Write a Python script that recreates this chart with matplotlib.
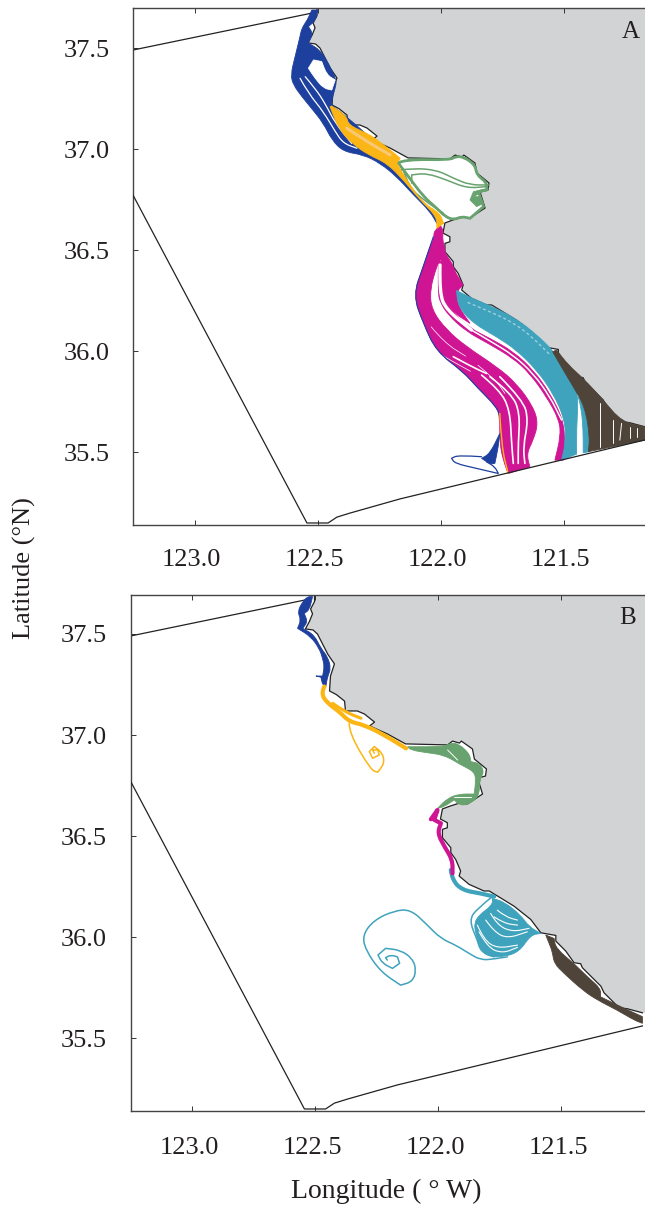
import math
import matplotlib
matplotlib.use("Agg")
import matplotlib.pyplot as plt
from matplotlib.path import Path
from matplotlib.patches import PathPatch
from matplotlib.transforms import ScaledTranslation

plt.rcParams['font.family'] = ['Liberation Serif', 'DejaVu Serif']

LON_TICKS = [123.0, 122.5, 122.0, 121.5]
LAT_TICKS = [35.5, 36.0, 36.5, 37.0, 37.5]

COL_BLUE = '#1d3f9e'
COL_GOLD = '#fbb515'
COL_GREEN = '#68a26e'
COL_MAG = '#cf1594'
COL_TEAL = '#3fa3bd'
COL_TEAL_LIGHT = '#9fd0dd'
COL_BROWN = '#4f4439'
COL_LAND = '#d1d3d4'

coast = [(122.504,37.698),(122.504,37.660),(122.520,37.624),(122.512,37.600),(122.524,37.564),(122.541,37.525),
         (122.510,37.520),(122.492,37.500),(122.463,37.431),(122.450,37.400),(122.423,37.352),(122.439,37.292),
         (122.443,37.218),(122.415,37.200),(122.382,37.168),(122.378,37.119),(122.330,37.119),(122.301,37.104),
         (122.260,37.064),(122.280,37.045),(122.207,37.005),(122.134,36.956),(121.963,36.951),(121.943,36.970),
         (121.915,36.960),(121.907,36.970),(121.862,36.931),(121.854,36.881),(121.805,36.832),(121.809,36.797),
         (121.841,36.787),(121.821,36.708),(121.882,36.659),(121.915,36.663),(121.951,36.649),(121.984,36.634),
         (121.992,36.584),(121.964,36.566),(121.964,36.541),(121.984,36.533),(121.984,36.492),(121.950,36.442),
         (121.950,36.418),(121.930,36.384),(121.910,36.327),(121.916,36.302),(121.876,36.261),(121.815,36.228),
         (121.794,36.228),(121.760,36.203),(121.693,36.153),(121.625,36.087),(121.584,36.021),(121.523,36.008),
         (121.523,35.980),(121.483,35.931),(121.449,35.873),(121.422,35.868),(121.415,35.848),(121.340,35.757),
         (121.327,35.724),(121.266,35.650),(121.232,35.645),(121.171,35.625)]
land_east = [(121.0,35.625),(121.0,37.9),(122.504,37.9)]

boundary_north = [(123.252,37.490),(122.524,37.673)]
boundary_south = [(123.252,36.772),(122.545,35.149),(122.459,35.149),(122.423,35.178),(122.370,35.198),
                  (122.167,35.268),(121.171,35.560)]

# Panel A
a_blue = [(122.525,37.688),(122.543,37.639),(122.566,37.598),(122.573,37.557),(122.593,37.458),(122.611,37.367),
          (122.600,37.317),(122.566,37.260),(122.532,37.210),(122.478,37.128),(122.444,37.045),(122.397,36.987),
          (122.315,36.971),(122.248,36.930),(122.180,36.863),(122.112,36.773),(122.044,36.690),(122.017,36.632),
          (121.990,36.632),(122.085,36.748),(122.153,36.847),(122.248,37.012),(122.383,37.161),(122.444,37.213),
          (122.444,37.243),(122.430,37.301),(122.424,37.342),(122.458,37.424),(122.491,37.490),(122.539,37.524),
          (122.521,37.573),(122.539,37.606),(122.508,37.639),(122.502,37.688)]
a_blue_hole = [(122.539,37.400),(122.518,37.441),(122.485,37.433),(122.464,37.367),(122.430,37.342),(122.444,37.292),
               (122.478,37.301),(122.512,37.350)]
a_blue_gaps = [[(122.573,37.350),(122.539,37.276),(122.478,37.185),(122.430,37.086),(122.397,37.028),(122.342,37.004)],
               [(122.552,37.358),(122.512,37.301),(122.471,37.226),(122.430,37.128),(122.363,37.028)]]
a_gold = [(122.451,37.210),(122.417,37.103),(122.363,37.028),(122.295,36.971),(122.220,36.930),(122.153,36.847),
          (122.085,36.748),(122.017,36.665),(122.017,36.608),(121.990,36.632),(122.004,36.682),(122.071,36.731),
          (122.132,36.831),(122.180,36.930),(122.166,36.954),(122.207,36.996),(122.268,37.053),(122.302,37.078),
          (122.376,37.119),(122.383,37.161),(122.444,37.213)]
a_gold_light = [(122.383,37.103),(122.302,37.037),(122.207,36.971)]
a_green_outer = [(122.180,36.930),(122.146,36.949),(121.963,36.946),(121.943,36.962),(121.909,36.962),(121.861,36.921),
                 (121.855,36.872),(121.814,36.834),(121.814,36.797),(121.848,36.789),(121.827,36.715),(121.882,36.657),
                 (121.916,36.666),(121.949,36.649),(121.983,36.666),(122.017,36.707),(122.071,36.764),(122.132,36.863),
                 (122.173,36.930)]
a_green_thin = [[(122.166,36.896),(122.112,36.905),(122.017,36.896),(121.949,36.855),(121.882,36.822),(121.807,36.822)],
                [(122.119,36.831),(122.119,36.872),(122.058,36.880),(121.977,36.847),(121.895,36.806),(121.814,36.814)],
                [(122.153,36.896),(122.132,36.814),(122.071,36.748),(121.990,36.682)]]
a_green_blob = [(121.807,36.806),(121.868,36.789),(121.882,36.748),(121.855,36.715),(121.827,36.732),(121.848,36.764),
                (121.868,36.764)]
a_mag_main = [(122.004,36.591),(122.031,36.566),(122.072,36.418),(122.113,36.277),(122.072,36.137),(122.018,35.997),
              (121.910,35.898),(121.855,35.823),(121.774,35.724),(121.761,35.675),(121.761,35.543),(121.747,35.460),
              (121.727,35.394),(121.639,35.427),(121.652,35.493),(121.625,35.559),(121.605,35.642),(121.625,35.724),
              (121.693,35.840),(121.774,35.923),(121.896,36.021),(121.977,36.104),(122.038,36.203),(122.045,36.302),
              (122.018,36.418),(122.004,36.450),(121.998,36.550)]
a_mag_strip = [(121.984,36.434),(121.991,36.302),(121.964,36.203),(121.882,36.112),(121.801,36.063),(121.706,35.997),
               (121.625,35.906),(121.557,35.791),(121.503,35.659),(121.496,35.543),(121.503,35.460),(121.537,35.460),
               (121.514,35.576),(121.519,35.659),(121.571,35.774),(121.639,35.889),(121.706,35.964),(121.808,36.038),
               (121.896,36.096),(121.971,36.178),(122.004,36.244),(122.011,36.285),(122.011,36.401),(122.011,36.450)]
a_mag_side = [(121.984,36.442),(121.964,36.434),(121.910,36.327),(121.937,36.294),(121.930,36.220),(121.882,36.137),
              (121.964,36.203),(121.991,36.302)]
a_mag_top = [(122.004,36.624),(121.991,36.599),(121.994,36.550),(121.984,36.508),(121.984,36.484),(121.950,36.426),
             (121.930,36.343),(121.937,36.302),(121.984,36.302),(121.998,36.450),(122.031,36.450),(122.031,36.582),
             (122.021,36.599)]
a_mag_gap_upper = [(122.004,36.426),(122.007,36.286),(121.977,36.203),(121.876,36.104)]
a_mag_gap_lower = [(121.876,36.104),(121.801,36.050),(121.706,35.980),(121.625,35.889),(121.557,35.774),(121.510,35.659)]
a_mag_gaps = [[(121.835,35.881),(121.761,35.807),(121.720,35.708),(121.713,35.543),(121.706,35.444)],
              [(121.801,35.873),(121.713,35.791),(121.679,35.692),(121.686,35.543),(121.686,35.444)],
              [(121.761,35.873),(121.666,35.757),(121.645,35.659),(121.666,35.526),(121.659,35.444)],
              [(121.950,35.972),(121.876,35.923),(121.815,35.889)]]
a_mag_fine = [[(122.012,35.990),(121.940,35.940),(121.880,35.900)],
              [(122.040,36.120),(121.985,36.040),(121.900,35.975)],
              [(121.850,35.930),(121.780,35.860),(121.740,35.790)]]
a_gold_stripe = [(121.761,35.691),(121.754,35.526),(121.727,35.394)]
a_blue_loop = [(121.835,35.477),(121.930,35.485),(121.957,35.469),(121.943,35.444),(121.855,35.419),(121.767,35.394),
               (121.781,35.427),(121.815,35.452)]
a_blue_tri = [(121.761,35.592),(121.801,35.493),(121.835,35.469),(121.801,35.441),(121.781,35.444),(121.767,35.526)]
a_teal_main = [(121.937,36.300),(121.876,36.262),(121.788,36.218),(121.695,36.160),(121.618,36.088),(121.542,36.000),
               (121.497,35.910),(121.458,35.828),(121.442,35.774),(121.449,35.609),(121.449,35.490),(121.510,35.460),
               (121.494,35.543),(121.496,35.659),(121.544,35.791),(121.611,35.906),(121.693,36.005),(121.774,36.071),
               (121.869,36.137),(121.930,36.220)]
a_teal_strip = [(121.442,35.774),(121.415,35.724),(121.395,35.576),(121.395,35.502),(121.422,35.497),(121.422,35.609),
                (121.429,35.708)]
a_teal_speckle = [(121.890,36.240),(121.800,36.195),(121.705,36.140),(121.630,36.070),(121.560,35.985)]
a_brown = [(121.546,35.997),(121.530,36.005),(121.483,35.931),(121.422,35.865),(121.340,35.757),(121.266,35.650),
           (121.171,35.625),(121.171,35.559),(121.401,35.502),(121.395,35.576),(121.415,35.724),(121.462,35.823),
           (121.503,35.906)]
a_brown_gaps = [[(121.300,35.658),(121.300,35.543)],[(121.266,35.642),(121.273,35.559)],[(121.232,35.625),(121.232,35.568)],
                [(121.205,35.617),(121.205,35.576)],[(121.354,35.741),(121.354,35.526)]]

# Panel B
b_blue = [(122.532,37.685),(122.512,37.685),(122.525,37.619),(122.546,37.602),(122.532,37.561),(122.552,37.528),
          (122.505,37.495),(122.478,37.429),(122.451,37.388),(122.437,37.330),(122.451,37.289),(122.458,37.240),
          (122.471,37.248),(122.478,37.286),(122.498,37.292),(122.471,37.292),(122.464,37.339),(122.471,37.380),
          (122.485,37.429),(122.519,37.487),(122.573,37.528),(122.559,37.570),(122.573,37.611),(122.552,37.660)]
b_gold_thick = [(122.464,37.240),(122.478,37.206),(122.451,37.157),(122.403,37.116),(122.363,37.066),(122.302,37.050),
                (122.220,37.000),(122.132,36.934)]
b_gold_inner = [(122.430,37.157),(122.383,37.116),(122.315,37.083)]
b_gold_track = [(122.363,37.058),(122.363,37.009),(122.275,36.827),(122.247,36.816),(122.220,36.860),(122.227,36.910),
                (122.261,36.943),(122.281,36.918),(122.268,36.885),(122.241,36.901),(122.247,36.926),(122.268,36.926),
                (122.261,36.910)]
b_green = [(122.126,36.942),(121.976,36.942),(121.956,36.959),(121.922,36.959),(121.875,36.910),(121.868,36.868),
           (121.834,36.860),(121.814,36.819),(121.834,36.777),(121.834,36.695),(121.882,36.654),(121.916,36.654),
           (121.936,36.679),(121.976,36.646),(122.004,36.637),(121.963,36.687),(121.916,36.708),(121.855,36.708),
           (121.848,36.777),(121.855,36.819),(121.909,36.852),(121.976,36.901),(122.058,36.914),(122.112,36.926)]
b_green_gaps = [[(121.936,36.692),(121.868,36.692)],[(121.963,36.926),(121.922,36.876)]]
b_mag = [(122.031,36.583),(122.004,36.629),(122.017,36.580),(121.990,36.563),(122.004,36.514),(121.976,36.448),
         (121.943,36.382),(121.943,36.315)]
b_teal_top = [(121.950,36.332),(121.944,36.282),(121.903,36.232),(121.828,36.216),(121.774,36.200)]
b_teal_fan = [(121.781,36.191),(121.734,36.175),(121.666,36.109),(121.632,36.051),(121.584,36.018),(121.625,36.010),
              (121.672,35.927),(121.734,35.902),(121.794,35.902),(121.828,35.935),(121.849,36.018),(121.855,36.068),
              (121.835,36.109),(121.781,36.158)]
b_teal_gaps = [[(121.842,36.059),(121.815,35.985),(121.761,35.944),(121.679,35.960)],
               [(121.808,36.084),(121.774,36.026),(121.720,35.993),(121.639,36.026)],
               [(121.774,36.100),(121.734,36.068),(121.679,36.059)],
               [(121.835,36.026),(121.801,35.949),(121.740,35.919),(121.679,35.949)],
               [(121.788,36.117),(121.761,36.059),(121.700,36.026),(121.632,36.043)],
               [(121.761,36.133),(121.727,36.100),(121.679,36.084)]]
b_teal_outer = [(121.781,36.200),(121.842,36.142),(121.876,36.084),(121.842,35.985),(121.828,35.927),(121.774,35.902)]
b_teal_track = [(121.720,35.902),(121.774,35.891),(121.828,35.886),(121.876,35.919),(121.930,35.960),(121.991,35.993),
                (122.045,36.059),(122.113,36.137),(122.181,36.130),(122.262,36.084),(122.309,36.010),(122.296,35.935),
                (122.235,35.828),(122.154,35.762),(122.106,35.779),(122.090,35.836),(122.106,35.894),(122.154,35.935),
                (122.215,35.944),(122.246,35.911),(122.228,35.870),(122.187,35.845),(122.158,35.870),(122.167,35.902),
                (122.194,35.911),(122.215,35.898),(122.208,35.886)]
b_brown = [(121.564,36.010),(121.530,35.993),(121.523,35.944),(121.442,35.861),(121.395,35.803),(121.341,35.746),
           (121.341,35.704),(121.259,35.655),(121.171,35.606),(121.171,35.573),(121.205,35.589),(121.273,35.638),
           (121.354,35.688),(121.411,35.734),(121.490,35.820),(121.530,35.870),(121.537,35.927),(121.550,35.968)]


def is_corner(a, b, c, limit=55):
    a1 = math.atan2(b[1] - a[1], b[0] - a[0])
    a2 = math.atan2(c[1] - b[1], c[0] - b[0])
    d = abs(math.degrees(a2 - a1)) % 360
    return min(d, 360 - d) > limit


def curve_path(pts, closed):
    """Round the drawn line between the read points; sharp corners stay sharp."""
    mid = lambda p, q: ((p[0] + q[0]) / 2, (p[1] + q[1]) / 2)
    n = len(pts)
    if closed:
        verts, codes = [mid(pts[-1], pts[0])], [Path.MOVETO]
        idx = range(n)
    else:
        verts, codes = [pts[0]], [Path.MOVETO]
        idx = range(1, n - 1)
    for i in idx:
        p, nxt = pts[i], pts[(i + 1) % n]
        if is_corner(pts[i - 1], p, nxt):
            verts += [p, mid(p, nxt)]
            codes += [Path.LINETO, Path.LINETO]
        else:
            verts += [p, mid(p, nxt)]
            codes += [Path.CURVE3, Path.CURVE3]
    if closed:
        verts.append(verts[0])
        codes.append(Path.CLOSEPOLY)
    else:
        verts.append(pts[-1])
        codes.append(Path.LINETO)
    return Path(verts, codes)


def poly(ax, pts, color, z=3):
    ax.add_patch(PathPatch(curve_path(pts, True), facecolor=color, edgecolor=color, lw=0.6, zorder=z))


def line(ax, pts, color, lw=1.0, z=4, ls='-'):
    ax.add_patch(PathPatch(curve_path(pts, False), facecolor='none', edgecolor=color, lw=lw, zorder=z,
                           capstyle='round', joinstyle='round', linestyle=ls))


W, H = 645, 1207
fig = plt.figure(figsize=(W / 100, H / 100), dpi=100)


def make_axes(x0, top, bottom, lat_top, lat_bot, label, label_xy, xpad):
    ax = fig.add_axes([x0 / W, 1 - bottom / H, (W - x0) / W, (bottom - top) / H])
    ax.set_xlim(123.252, 123.252 - (W - x0) / 246.0)
    ax.set_ylim(lat_bot, lat_top)
    ax.set_xticks(LON_TICKS)
    ax.set_xticklabels([f'{v:.1f}' for v in LON_TICKS])
    ax.set_yticks(LAT_TICKS)
    ax.set_yticklabels([f'{v:.1f}' for v in LAT_TICKS])
    ax.tick_params(direction='in', length=3.5, width=0.7, labelsize=19, top=True, color='#333333',
                   labelcolor='#231f20', pad=17)
    ax.tick_params(axis='x', pad=xpad)
    shift = ScaledTranslation(-3.5 / 100, 0, fig.dpi_scale_trans)
    for t in ax.get_xticklabels():
        t.set_transform(t.get_transform() + shift)
    ax.spines['right'].set_visible(False)
    for s in ('top', 'bottom', 'left'):
        ax.spines[s].set_linewidth(1.0)
        ax.spines[s].set_color('#444444')
    ax.fill([p[0] for p in coast + land_east], [p[1] for p in coast + land_east], color=COL_LAND, lw=0, zorder=1)
    ax.plot([p[0] for p in boundary_north], [p[1] for p in boundary_north], color='#222222', lw=0.9, zorder=2)
    ax.plot([p[0] for p in boundary_south], [p[1] for p in boundary_south], color='#222222', lw=0.9, zorder=5)
    ax.plot([p[0] for p in coast], [p[1] for p in coast], color='#222222', lw=0.9, zorder=2.5)
    ax.text(label_xy[0], label_xy[1], label, transform=ax.transAxes, ha='center', va='center', fontsize=18,
            color='#231f20', zorder=6)
    return ax


axA = make_axes(133, 8, 525, 37.698, 35.139, 'A', (0.9727, 0.9536), 17)
axB = make_axes(130.5, 595, 1111, 37.693, 35.139, 'B', (0.967, 0.955), 19)

# ---- Panel A ----
poly(axA, a_blue, COL_BLUE)
poly(axA, a_blue_hole, 'white', 3.1)
for g in a_blue_gaps:
    line(axA, g, 'white', 0.9, 3.2)
poly(axA, a_gold, COL_GOLD, 3.3)
line(axA, a_gold_light, '#f9c877', 2.2, 3.4)
line(axA, a_green_outer, COL_GREEN, 2.0, 3.2)
for g in a_green_thin:
    line(axA, g, COL_GREEN, 1.1, 3.2)
poly(axA, a_green_blob, COL_GREEN, 3.2)
poly(axA, a_mag_main, COL_MAG, 3.0)
poly(axA, a_mag_strip, COL_MAG, 3.0)
poly(axA, a_mag_side, COL_MAG, 3.0)
poly(axA, a_mag_top, COL_MAG, 3.0)
line(axA, a_mag_gap_upper, 'white', 2.4, 3.1)
line(axA, a_mag_gap_lower, 'white', 1.1, 3.1)
for g in a_mag_gaps:
    line(axA, g, 'white', 1.2, 3.1)
for g in a_mag_fine:
    line(axA, g, 'white', 0.5, 3.1)
line(axA, a_mag_main[1:10], COL_BLUE, 0.8, 3.2)
line(axA, a_gold_stripe, COL_GOLD, 1.0, 3.2)
line(axA, a_blue_loop, COL_BLUE, 0.9, 3.2)
poly(axA, a_blue_tri, COL_BLUE, 3.2)
poly(axA, a_teal_main, COL_TEAL, 3.0)
poly(axA, a_teal_strip, COL_TEAL, 3.0)
line(axA, a_teal_speckle, COL_TEAL_LIGHT, 1.0, 3.1, ls=(0, (1.5, 2.5)))
poly(axA, a_brown, COL_BROWN, 3.0)
for g in a_brown_gaps:
    line(axA, g, 'white', 0.7, 3.1)

# ---- Panel B ----
poly(axB, b_blue, COL_BLUE)
line(axB, b_gold_thick, COL_GOLD, 3.0, 3.2)
line(axB, b_gold_inner, COL_GOLD, 2.2, 3.2)
line(axB, b_gold_track, COL_GOLD, 1.1, 3.2)
poly(axB, b_green, COL_GREEN)
for g in b_green_gaps:
    line(axB, g, 'white', 0.7, 3.1)
line(axB, b_mag, COL_MAG, 3.0, 3.2)
line(axB, b_teal_top, COL_TEAL, 3.0, 3.1)
poly(axB, b_teal_fan, COL_TEAL)
for g in b_teal_gaps:
    line(axB, g, 'white', 0.8, 3.1)
line(axB, b_teal_outer, COL_TEAL, 1.1, 3.2)
line(axB, b_teal_track, COL_TEAL, 1.1, 3.2)
poly(axB, b_brown, COL_BROWN)

fig.text(24 / W, 1 - 568 / H, 'Latitude (°N)', rotation=90, ha='center', va='center', fontsize=19, color='#231f20')
fig.text(386 / W, 1 - 1191 / H, 'Longitude ( ° W)', ha='center', va='center', fontsize=20, color='#231f20')

fig.savefig('out.png', dpi=100)
